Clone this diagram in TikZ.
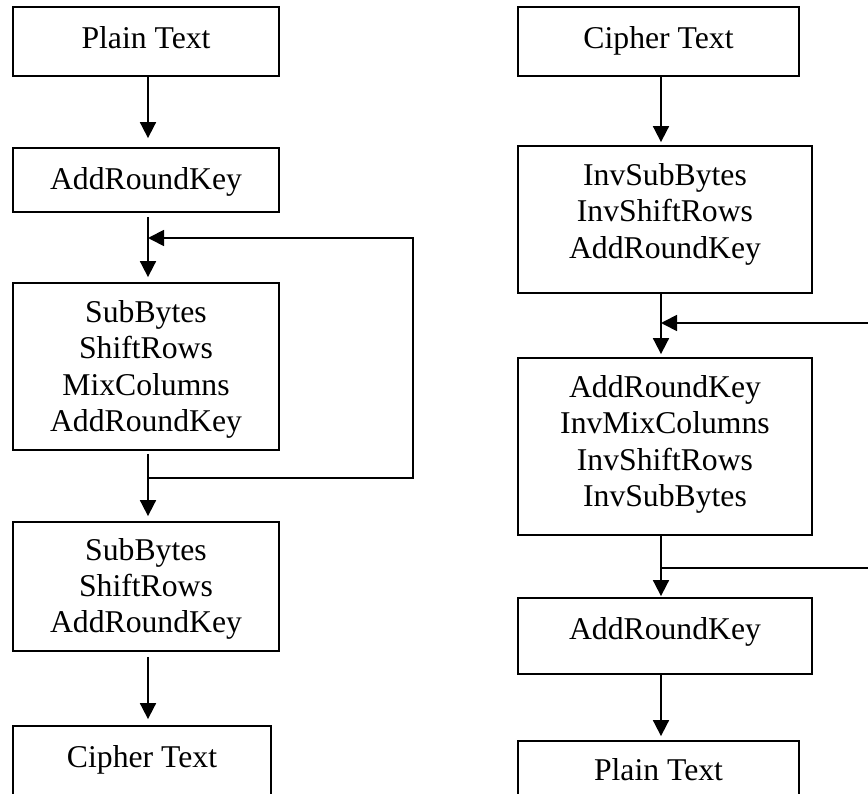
\documentclass[tikz,border=0pt]{standalone}
\usepackage{fontspec}
\setmainfont{Liberation Serif}
\usetikzlibrary{arrows.meta}
\begin{document}
\begin{tikzpicture}[x=1pt,y=-1pt,
  box/.style={draw=black,line width=1.8pt,inner sep=0pt,align=center,text depth=7pt,
    font=\fontsize{31.7}{36.5}\selectfont},
  flow/.style={line width=1.8pt,-{Triangle[width=16pt,length=16pt]}},
  wire/.style={line width=1.8pt}]
\useasboundingbox (0,0) rectangle (868,794);

% encryption column
\node[box,minimum width=266pt,minimum height=69pt] (pt1) at (146,41.5) {Plain Text};
\node[box,minimum width=266pt,minimum height=64pt,text depth=3pt] (ark1) at (146,180) {AddRoundKey};
\node[box,minimum width=266pt,minimum height=167pt,text depth=1pt] (round1) at (146,366.5)
  {SubBytes\\ShiftRows\\MixColumns\\AddRoundKey};
\node[box,minimum width=266pt,minimum height=129pt,text depth=2pt] (final1) at (146,586.5)
  {SubBytes\\ShiftRows\\AddRoundKey};
\node[box,minimum width=258pt,minimum height=75pt,text depth=14.5pt] (ct1) at (142,763.5) {Cipher Text};

\coordinate (laxis) at (148,0);
\draw[flow,shorten >=9pt] (pt1.south -| laxis) -- (ark1.north -| laxis);
\draw[flow,shorten <=4pt,shorten >=5pt] (ark1.south -| laxis) -- (round1.north -| laxis);
\draw[flow,shorten <=3pt,shorten >=5pt] (round1.south -| laxis) -- (final1.north -| laxis);
\draw[flow,shorten <=5pt,shorten >=6pt] (final1.south -| laxis) -- (ct1.north -| laxis);

% encryption round loop
\coordinate (lout) at (148,478);
\coordinate (lin) at (148,238);
\draw[flow] (lout) -- (413,478) -- (413,238) -- (lin);

% decryption column
\node[box,minimum width=281pt,minimum height=69pt] (ct2) at (658.5,41.5) {Cipher Text};
\node[box,minimum width=294pt,minimum height=147pt,text depth=17.5pt] (first2) at (665,219.5)
  {InvSubBytes\\InvShiftRows\\AddRoundKey};
\node[box,minimum width=294pt,minimum height=177pt,text depth=11pt] (round2) at (665,446.5)
  {AddRoundKey\\InvMixColumns\\InvShiftRows\\InvSubBytes};
\node[box,minimum width=294pt,minimum height=76pt,text depth=15pt] (ark2) at (665,636) {AddRoundKey};
\node[box,minimum width=281pt,minimum height=64pt] (pt2) at (658.5,773) {Plain Text};

\coordinate (raxis) at (661,0);
\draw[flow,shorten >=3pt] (ct2.south -| raxis) -- (first2.north -| raxis);
\draw[flow,shorten >=3pt] (first2.south -| raxis) -- (round2.north -| raxis);
\draw[flow,shorten >=1pt] (round2.south -| raxis) -- (ark2.north -| raxis);
\draw[flow,shorten >=4pt] (ark2.south -| raxis) -- (pt2.north -| raxis);

% decryption round loop (its return leg runs past the right edge)
\coordinate (rout) at (661,568);
\coordinate (rin) at (661,323);
\draw[flow] (rout) -- (900,568) -- (900,323) -- (rin);
\end{tikzpicture}
\end{document}
